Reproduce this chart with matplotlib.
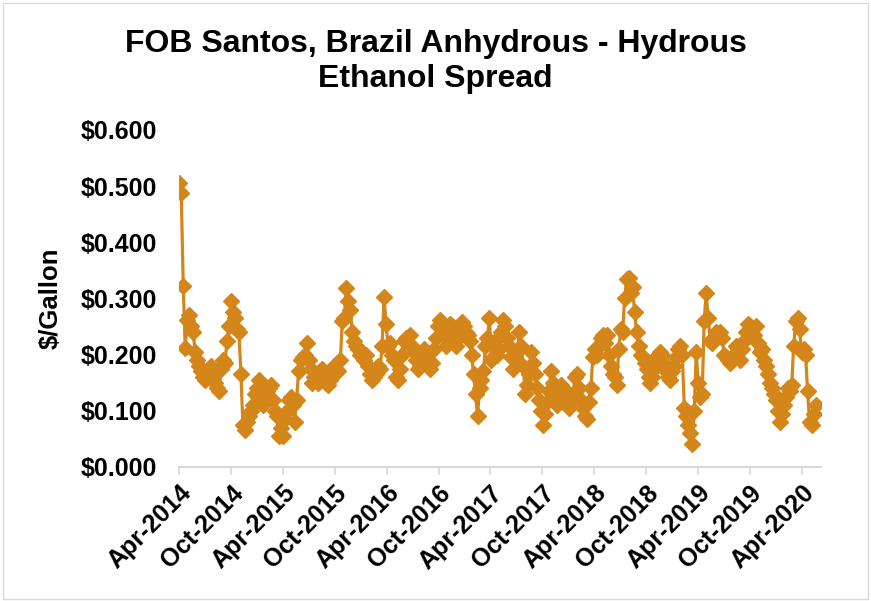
import matplotlib
matplotlib.use("Agg")
import matplotlib.pyplot as plt
from matplotlib.patches import Rectangle
from matplotlib.transforms import ScaledTranslation
import pandas as pd

plt.rcParams['font.family'] = ['Liberation Sans', 'DejaVu Sans']

title = "FOB Santos, Brazil Anhydrous - Hydrous\nEthanol Spread"
y_label = "$/Gallon"

# weekly values, one row per half year (26 weeks), starting Apr-2014
spread = [
    # Apr-2014 .. Oct-2014
    0.505, 0.487, 0.322, 0.212, 0.262, 0.270, 0.250, 0.240, 0.205, 0.190, 0.180, 0.170, 0.160,
    0.155, 0.165, 0.175, 0.180, 0.160, 0.150, 0.140, 0.135, 0.175, 0.190, 0.185, 0.225, 0.250,
    # Oct-2014 .. Apr-2015
    0.295, 0.275, 0.265, 0.245, 0.240, 0.165, 0.075, 0.065, 0.080, 0.090, 0.100, 0.110, 0.130,
    0.140, 0.155, 0.120, 0.110, 0.120, 0.135, 0.140, 0.145, 0.120, 0.100, 0.090, 0.055, 0.070,
    # Apr-2015 .. Oct-2015
    0.055, 0.085, 0.100, 0.120, 0.125, 0.110, 0.080, 0.120, 0.170, 0.190, 0.195, 0.200, 0.220,
    0.190, 0.175, 0.150, 0.160, 0.165, 0.150, 0.170, 0.175, 0.160, 0.150, 0.145, 0.155, 0.165,
    # Oct-2015 .. Apr-2016
    0.180, 0.175, 0.170, 0.190, 0.260, 0.265, 0.318, 0.295, 0.280, 0.240, 0.225, 0.215, 0.210,
    0.200, 0.205, 0.190, 0.200, 0.180, 0.165, 0.155, 0.160, 0.165, 0.180, 0.175, 0.215, 0.303,
    # Apr-2016 .. Oct-2016
    0.255, 0.215, 0.220, 0.200, 0.190, 0.160, 0.155, 0.175, 0.200, 0.225, 0.230, 0.220, 0.235,
    0.215, 0.205, 0.190, 0.175, 0.180, 0.200, 0.210, 0.200, 0.185, 0.175, 0.185, 0.210, 0.230,
    # Oct-2016 .. Apr-2017
    0.250, 0.262, 0.255, 0.240, 0.215, 0.230, 0.255, 0.250, 0.225, 0.215, 0.230, 0.245, 0.258,
    0.250, 0.240, 0.235, 0.225, 0.200, 0.165, 0.130, 0.090, 0.140, 0.155, 0.170, 0.215, 0.230,
    # Apr-2017 .. Oct-2017
    0.265, 0.190, 0.195, 0.225, 0.200, 0.210, 0.240, 0.262, 0.250, 0.230, 0.215, 0.195, 0.175,
    0.190, 0.205, 0.240, 0.215, 0.180, 0.130, 0.145, 0.165, 0.205, 0.185, 0.165, 0.140, 0.120,
    # Oct-2017 .. Apr-2018
    0.100, 0.075, 0.095, 0.115, 0.135, 0.170, 0.150, 0.130, 0.110, 0.120, 0.145, 0.140, 0.125,
    0.110, 0.105, 0.115, 0.130, 0.160, 0.165, 0.140, 0.120, 0.105, 0.090, 0.085, 0.115, 0.140,
    # Apr-2018 .. Oct-2018
    0.195, 0.210, 0.200, 0.215, 0.230, 0.235, 0.220, 0.235, 0.200, 0.180, 0.165, 0.160, 0.145,
    0.210, 0.245, 0.240, 0.300, 0.335, 0.337, 0.310, 0.320, 0.275, 0.240, 0.215, 0.200, 0.195,
    # Oct-2018 .. Apr-2019
    0.185, 0.175, 0.160, 0.150, 0.160, 0.175, 0.190, 0.200, 0.205, 0.200, 0.185, 0.170, 0.160,
    0.155, 0.170, 0.180, 0.195, 0.210, 0.215, 0.200, 0.105, 0.090, 0.075, 0.060, 0.040, 0.100,
    # Apr-2019 .. Oct-2019
    0.205, 0.150, 0.125, 0.130, 0.260, 0.310, 0.265, 0.225, 0.220, 0.230, 0.240, 0.235, 0.240,
    0.230, 0.200, 0.195, 0.190, 0.185, 0.190, 0.200, 0.215, 0.210, 0.190, 0.210, 0.225, 0.240,
    # Oct-2019 .. Apr-2020
    0.255, 0.250, 0.245, 0.235, 0.250, 0.220, 0.205, 0.210, 0.190, 0.180, 0.165, 0.150, 0.140,
    0.130, 0.120, 0.100, 0.080, 0.095, 0.110, 0.125, 0.140, 0.135, 0.145, 0.215, 0.260, 0.265,
    # Apr-2020 ..
    0.245, 0.205, 0.210, 0.200, 0.135, 0.080, 0.075, 0.095, 0.110,
]
dates = pd.date_range("2014-04-02", periods=len(spread), freq="7D")

tick_labels = ["Apr-2014", "Oct-2014", "Apr-2015", "Oct-2015", "Apr-2016", "Oct-2016",
               "Apr-2017", "Oct-2017", "Apr-2018", "Oct-2018", "Apr-2019", "Oct-2019",
               "Apr-2020"]
tick_dates = pd.to_datetime(["2014-04-01", "2014-10-01", "2015-04-01", "2015-10-01",
                             "2016-04-01", "2016-10-01", "2017-04-01", "2017-10-01",
                             "2018-04-01", "2018-10-01", "2019-04-01", "2019-10-01",
                             "2020-04-01"])
y_ticks = [0.0, 0.1, 0.2, 0.3, 0.4, 0.5, 0.6]

color = "#D4861A"

fig = plt.figure(figsize=(8.71, 6.01), dpi=100)
fig.patches.append(Rectangle((0.004, 0.004), 0.992, 0.991, transform=fig.transFigure,
                             fill=False, edgecolor="#D9D9D9", linewidth=1.0))
ax = fig.add_axes([0.2055, 0.223, 0.737, 0.561])

ax.plot(dates, spread, color=color, linewidth=2.3, marker="D", markersize=8.5,
        markerfacecolor=color, markeredgecolor=color)

ax.set_xlim(pd.Timestamp("2014-04-01"), pd.Timestamp("2020-06-08"))
ax.set_ylim(0, 0.6)
ax.set_yticks(y_ticks)
ax.set_yticklabels([f"${v:.3f}" for v in y_ticks], fontsize=18, fontweight="bold")
ax.set_xticks(tick_dates)
ax.set_xticklabels(tick_labels, rotation=45, ha="right", rotation_mode="anchor",
                   fontsize=18, fontweight="bold")
shift = ScaledTranslation(-8 / 100, 0, fig.dpi_scale_trans)
for lab in ax.get_xticklabels():
    lab.set_transform(lab.get_transform() + shift)

for s in ["top", "right", "left"]:
    ax.spines[s].set_visible(False)
ax.spines["bottom"].set_color("#D9D9D9")
ax.spines["bottom"].set_linewidth(1.5)
ax.tick_params(axis="y", length=0, pad=16)
ax.tick_params(axis="x", length=6, width=1.2, color="#D9D9D9", pad=4, direction="out")

fig.text(51 / 871, 0.504, y_label, rotation=90, ha="center", va="center",
         fontsize=18.5, fontweight="bold")
fig.text(0.5, 0.897, title, ha="center", va="center", fontsize=23, fontweight="bold",
         linespacing=1.22)

fig.savefig("out.png", dpi=100)
